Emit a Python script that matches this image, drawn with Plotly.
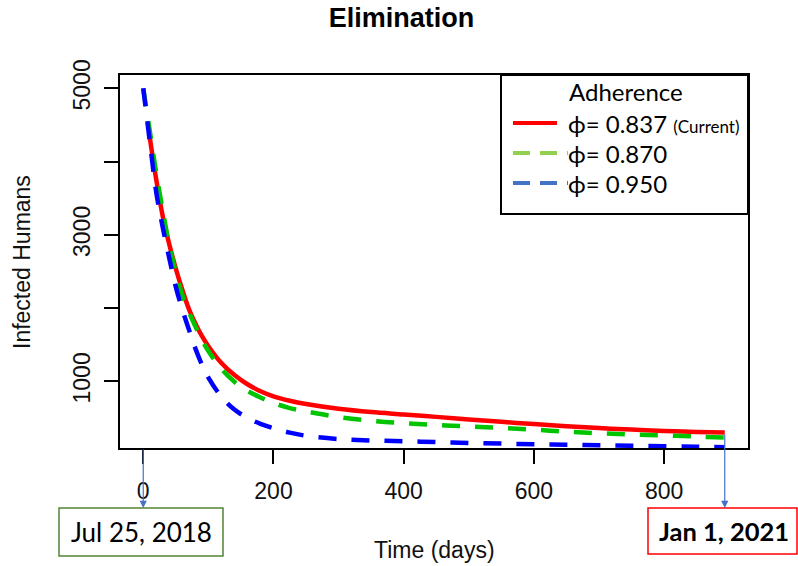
import plotly.graph_objects as go

# ---- data ----
t_days = [0, 10, 20, 30, 40, 50, 60, 70, 80, 90, 100, 120, 140, 160, 180, 200, 225, 250,
          300, 350, 400, 450, 500, 550, 600, 650, 700, 750, 800, 850, 893]
red_0837 = [4900, 4330, 3750, 3250, 2870, 2540, 2250, 1990, 1790, 1620, 1480, 1250, 1085, 960,
            865, 795, 735, 690, 625, 580, 548, 515, 478, 447, 417, 388, 362, 341, 323, 310, 300]
green_0870 = [5000, 4420, 3840, 3330, 2860, 2490, 2180, 1950, 1750, 1570, 1415, 1170, 995, 870,
              780, 705, 635, 590, 512, 462, 428, 405, 383, 363, 340, 313, 292, 276, 262, 246, 232]
blue_0950 = [5000, 4280, 3580, 3100, 2680, 2290, 1980, 1710, 1450, 1230, 1050, 790, 615, 500,
             420, 360, 300, 257, 212, 193, 183, 170, 158, 150, 142, 135, 127, 120, 113, 106, 100]

x_ticks = [0, 200, 400, 600, 800]
y_ticks = [1000, 2000, 3000, 4000, 5000]
y_ticktext = ["1000", "", "3000", "", "5000"]

title_text = "Elimination"
x_title = "Time (days)"
y_title = "Infected Humans"
legend_title = "Adherence"
legend_labels = ["ϕ= 0.837", "ϕ= 0.870", "ϕ= 0.950"]
start_label = "Jul 25, 2018"
end_label = "Jan 1, 2021"

# ---- figure geometry ----
W, H = 798, 566
L, R, T, B = 120, 50, 75, 118
PW, PH = W - L - R, H - T - B


def px(xp):
    return (xp - L) / PW


def py(yp):
    return (H - B - yp) / PH


fig = go.Figure()
fig.add_trace(go.Scatter(x=t_days[1:], y=red_0837[1:], mode="lines",
                         line=dict(color="#ff0000", width=4.5, shape="spline", smoothing=1.0),
                         showlegend=False))
fig.add_trace(go.Scatter(x=t_days, y=green_0870, mode="lines",
                         line=dict(color="#00c400", width=4.5, dash="18px,15px",
                                   shape="spline", smoothing=1.0),
                         showlegend=False))
fig.add_trace(go.Scatter(x=t_days, y=blue_0950, mode="lines",
                         line=dict(color="#0000ff", width=4.5, dash="18px,15px",
                                   shape="spline", smoothing=1.0),
                         showlegend=False))

axis_font = dict(family="Liberation Sans, Arial, sans-serif", size=23, color="#111111")

fig.update_layout(
    width=W, height=H,
    margin=dict(l=L, r=R, t=T, b=B),
    paper_bgcolor="white", plot_bgcolor="white",
    title=dict(text="<b>" + title_text + "</b>", x=px(436), xanchor="center",
               y=1 - 18 / H, yanchor="middle",
               font=dict(family="Liberation Sans, Arial, sans-serif", size=27, color="black")),
    xaxis=dict(range=[-35.7, 928.7], tickvals=x_ticks, ticks="outside", ticklen=14,
               tickwidth=1.5, tickcolor="black", showgrid=False, zeroline=False,
               showline=True, linecolor="black", linewidth=2, mirror=True,
               tickfont=axis_font, ticklabelstandoff=7),
    yaxis=dict(range=[90, 5182], tickvals=y_ticks, ticktext=y_ticktext, ticks="outside",
               ticklen=14, tickwidth=1.5, tickcolor="black", showgrid=False, zeroline=False,
               showline=True, linecolor="black", linewidth=2, mirror=True,
               tickangle=-90, tickfont=axis_font, ticklabelstandoff=5),
    font=dict(family="Liberation Sans, Arial, sans-serif"),
)

# axis titles
fig.add_annotation(text=x_title, x=px(434), y=py(550), xref="paper", yref="paper",
                   showarrow=False, font=axis_font, xanchor="center", yanchor="middle")
fig.add_annotation(text=y_title, x=px(22), y=py(262), xref="paper", yref="paper",
                   showarrow=False, font=axis_font, textangle=-90,
                   xanchor="center", yanchor="middle")

# legend box
leg_font = "Lato, Carlito, Calibri, sans-serif"
fig.add_shape(type="rect", xref="paper", yref="paper", x0=px(501), x1=px(748),
              y0=py(214), y1=py(75), line=dict(color="black", width=2),
              fillcolor="white", layer="above")
fig.add_annotation(text=legend_title, x=px(567), y=py(91), xref="paper", yref="paper",
                   showarrow=False, xanchor="left", yanchor="middle",
                   font=dict(family=leg_font, size=24, color="black"))
leg_colors = ["#ff0000", "#92d050", "#4472c4"]
leg_dash = ["solid", "17px,10px", "17px,10px"]
leg_rows = [123, 153, 183]
for i in range(3):
    x_end = 557 if i == 0 else 568
    fig.add_shape(type="line", xref="paper", yref="paper", x0=px(513), x1=px(x_end),
                  y0=py(leg_rows[i]), y1=py(leg_rows[i]),
                  line=dict(color=leg_colors[i], width=4, dash=leg_dash[i]), layer="above")
    txt = legend_labels[i]
    if i == 0:
        txt += " <span style='font-size:17px'>(Current)</span>"
    fig.add_annotation(text=txt, x=px(566), y=py(leg_rows[i]), xref="paper", yref="paper",
                       showarrow=False, xanchor="left", yanchor="middle",
                       font=dict(family=leg_font, size=24, color="black"))

# date boxes
fig.add_shape(type="rect", xref="paper", yref="paper", x0=px(59), x1=px(223),
              y0=py(556), y1=py(508), line=dict(color="#548235", width=1.5),
              fillcolor="white")
fig.add_annotation(text=start_label, x=px(141), y=py(532), xref="paper", yref="paper",
                   showarrow=False, xanchor="center", yanchor="middle",
                   font=dict(family=leg_font, size=26, color="black"))
fig.add_shape(type="rect", xref="paper", yref="paper", x0=px(648), x1=px(797),
              y0=py(554), y1=py(508), line=dict(color="#ff0000", width=1.5),
              fillcolor="white")
fig.add_annotation(text="<b>" + end_label + "</b>", x=px(724), y=py(531), xref="paper",
                   yref="paper", showarrow=False, xanchor="center", yanchor="middle",
                   font=dict(family=leg_font, size=25.5, color="black"))

# arrows
fig.add_annotation(text="", x=t_days[0], y=py(508), xref="x", yref="paper",
                   ax=0, ay=-60, showarrow=True, arrowhead=2, arrowsize=1.2,
                   arrowwidth=1.2, arrowcolor="#4472c4", standoff=0)
fig.add_annotation(text="", x=t_days[-1], y=py(508), xref="x", yref="paper",
                   ax=0, ay=-75, showarrow=True, arrowhead=2, arrowsize=1.2,
                   arrowwidth=1.2, arrowcolor="#4472c4", standoff=0)

fig.write_html("out.html", config={"displayModeBar": False},
               post_script="document.body.style.margin='0';")
